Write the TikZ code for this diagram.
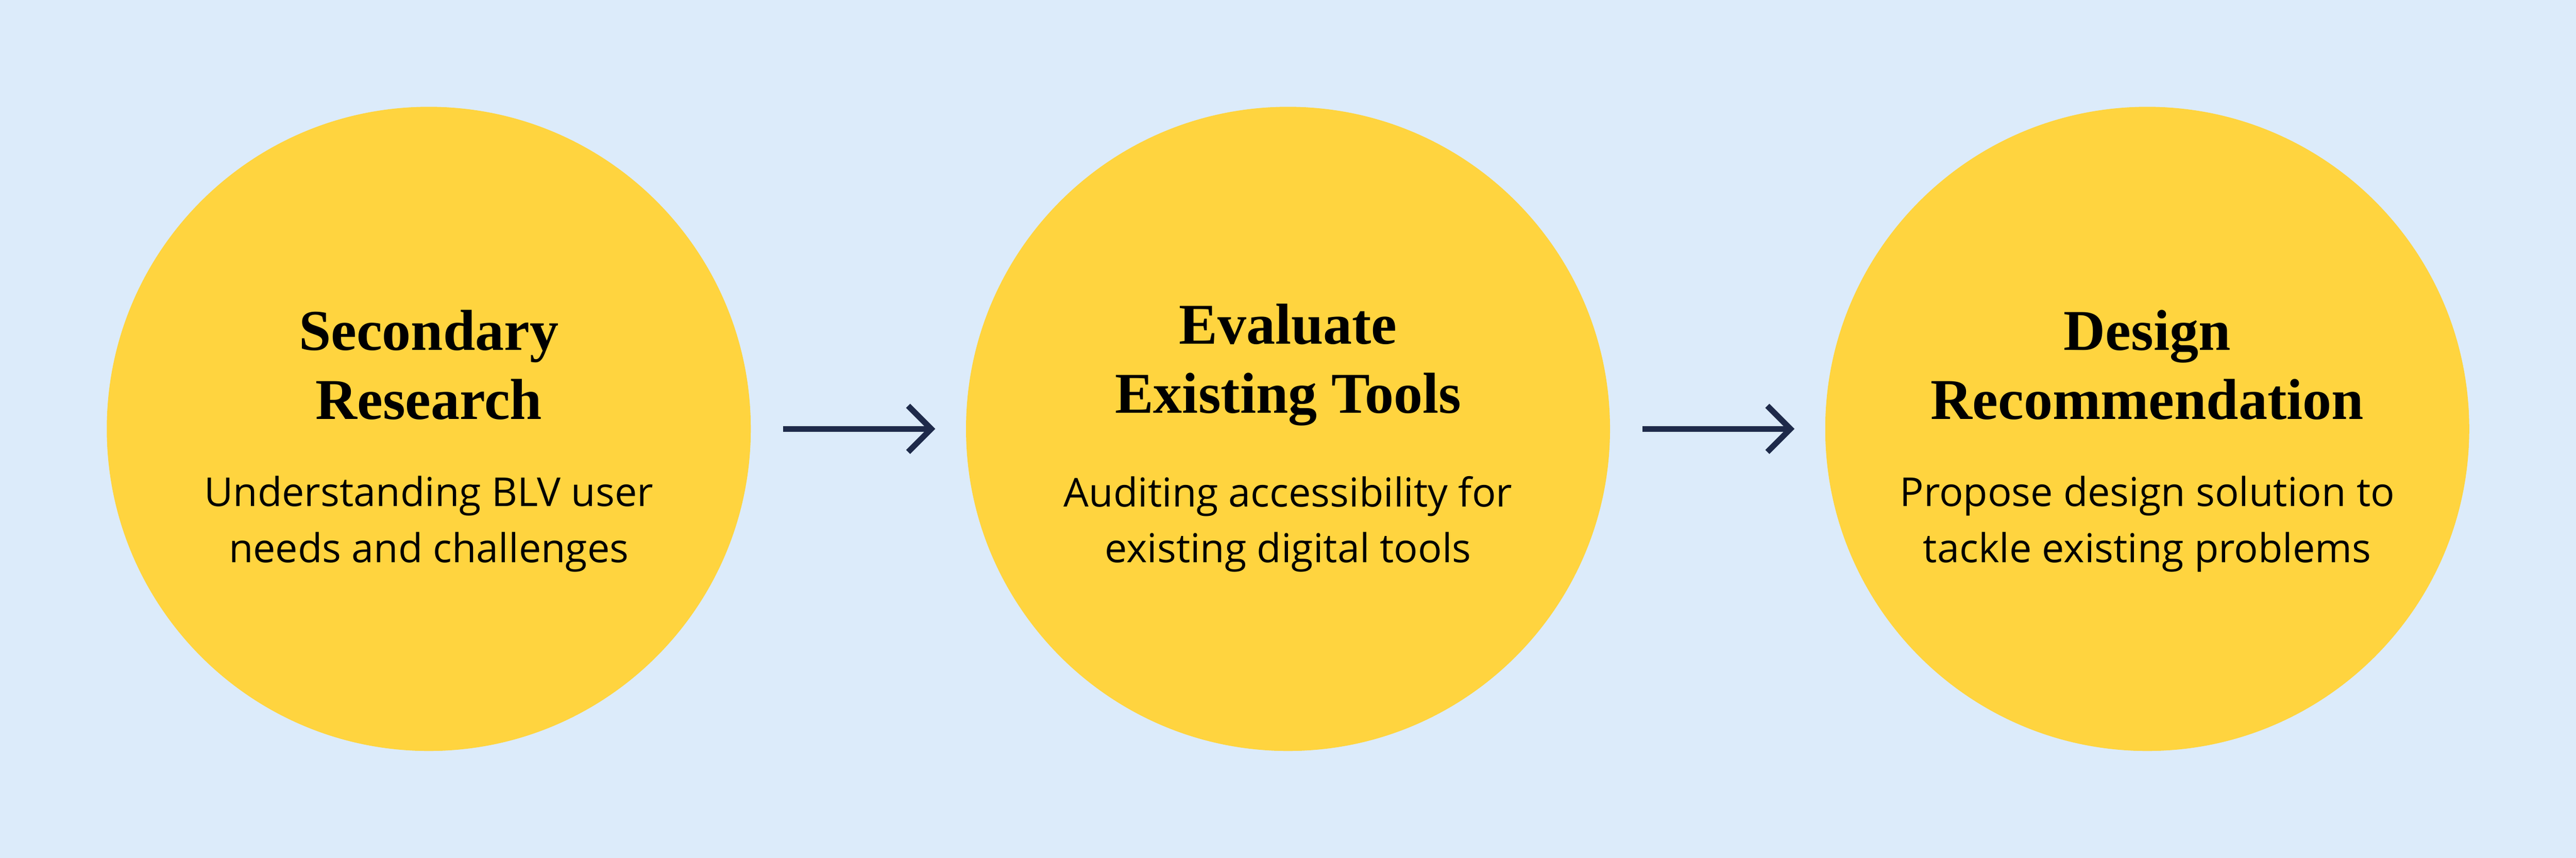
\documentclass[tikz,border=0pt]{standalone}
\usepackage{fontspec}
\setmainfont{Liberation Serif}
\setsansfont{Open Sans}
\usetikzlibrary{positioning}
\usetikzlibrary{arrows.meta}
\definecolor{bgblue}{HTML}{DCEBFA}
\definecolor{sunyellow}{HTML}{FFD43F}
\definecolor{navy}{HTML}{1E2A4A}

\tikzset{
  phase/.style={circle, fill=sunyellow, minimum size=3.92cm, inner sep=0pt},
  title/.style={font=\fontsize{10}{12}\selectfont\bfseries, align=center, text=black},
  detail/.style={font=\sffamily\fontsize{6.9}{9.7}\selectfont, align=center, text=black},
  flow/.style={-{Straight Barb[length=4pt, width=8pt]}, line width=1pt, navy, shorten <=0.19cm, shorten >=0.18cm}
}

\begin{document}
\begin{tikzpicture}
  \fill[bgblue] (0,0) rectangle (15.68,-5.22);
  \useasboundingbox (0,0) rectangle (15.68,-5.22);

  \node[phase] at (2.61,-2.61) (research) {};
  \node[phase] at (7.84,-2.61) (evaluate) {};
  \node[phase] at (13.07,-2.61) (recommend) {};

  \node[title] at ([yshift=0.39cm]research.center) (research-title) {Secondary\\Research};
  \node[detail] at ([yshift=-0.58cm]research.center) (research-text) {Understanding BLV user\\needs and challenges};

  \node[title] at ([yshift=0.39cm]evaluate.center) (evaluate-title) {Evaluate\\Existing Tools};
  \node[detail] at ([yshift=-0.58cm]evaluate.center) (evaluate-text) {Auditing accessibility for\\existing digital tools};

  \node[title] at ([yshift=0.39cm]recommend.center) (recommend-title) {Design\\Recommendation};
  \node[detail] at ([yshift=-0.58cm]recommend.center) (recommend-text) {Propose design solution to\\tackle existing problems};

  \draw[flow] (research) -- (evaluate);
  \draw[flow] (evaluate) -- (recommend);
\end{tikzpicture}
\end{document}
